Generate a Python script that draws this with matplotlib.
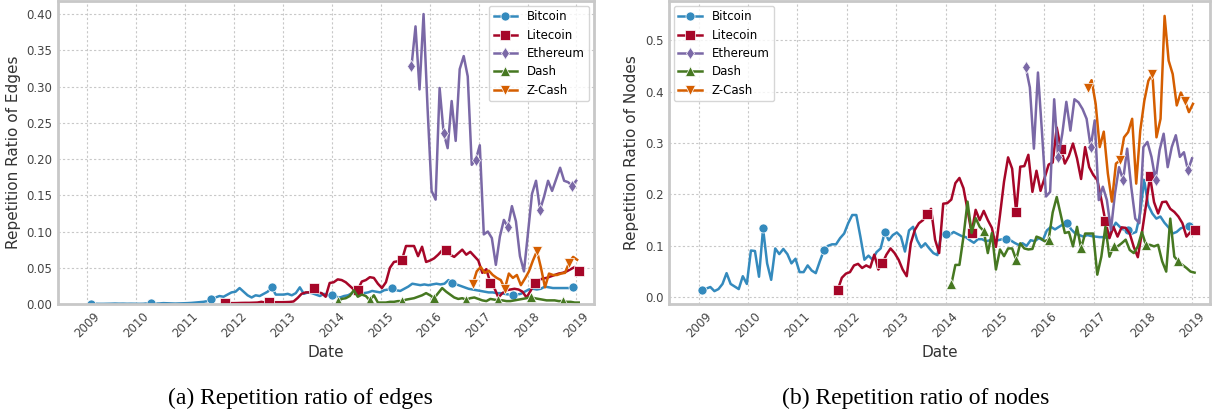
import numpy as np
import pandas as pd
import matplotlib
matplotlib.use("Agg")
import matplotlib.pyplot as plt
import matplotlib.dates as mdates

coins = ["Bitcoin", "Litecoin", "Ethereum", "Dash", "Z-Cash"]
starts = {"Bitcoin": "2009-01-27", "Litecoin": "2011-10-27", "Ethereum": "2015-08-18",
          "Dash": "2014-02-13", "Z-Cash": "2016-11-17"}

# repetition ratio of edges (30-day windows)
edges_btc = [0.0005, 0.0003, 0.0002, 0.0002, 0.0003, 0.0004, 0.0006, 0.0004, 0.0005, 0.0003,
             0.0004, 0.0003, 0.0002, 0.0003, 0.0008, 0.0015, 0.0005, 0.0007, 0.0012, 0.0010,
             0.0008, 0.0006, 0.0008, 0.0010, 0.0012, 0.0015, 0.0020, 0.0025, 0.0030, 0.0040, 0.0070,
             0.009, 0.011, 0.010, 0.013, 0.016, 0.017, 0.022, 0.017, 0.012, 0.009,
             0.012, 0.011, 0.014, 0.017, 0.023, 0.013, 0.013, 0.013, 0.014, 0.012,
             0.015, 0.023, 0.014, 0.016, 0.015, 0.013, 0.011, 0.014, 0.012, 0.013,
             0.010, 0.009, 0.011, 0.012, 0.015, 0.016, 0.014, 0.015, 0.016, 0.018,
             0.017, 0.016, 0.019, 0.020, 0.022, 0.019, 0.018, 0.021, 0.024, 0.028,
             0.027, 0.026, 0.027, 0.026, 0.027, 0.028, 0.027, 0.028, 0.033, 0.029,
             0.027, 0.025, 0.023, 0.021, 0.020, 0.019, 0.018, 0.017, 0.016, 0.016,
             0.015, 0.015, 0.014, 0.013, 0.012, 0.013, 0.014, 0.017, 0.020, 0.021,
             0.020, 0.021, 0.024, 0.023, 0.022, 0.022, 0.022, 0.022, 0.022, 0.023]
edges_ltc = [0.0014, 0.0012, 0.0012, 0.0013, 0.0015, 0.0016, 0.0016, 0.0018, 0.0020, 0.0030,
             0.0020, 0.0030, 0.0025, 0.0025, 0.0025, 0.0026, 0.0028, 0.0035, 0.0082, 0.014,
             0.016, 0.016, 0.022, 0.016, 0.015, 0.010,
             0.029, 0.030, 0.034, 0.033, 0.030, 0.025, 0.020, 0.020, 0.031, 0.033,
             0.037, 0.036, 0.028, 0.022, 0.030, 0.050, 0.058, 0.059, 0.061,
             0.080, 0.080, 0.080, 0.066, 0.079, 0.058, 0.060, 0.063, 0.068, 0.074, 0.074,
             0.068, 0.065, 0.070, 0.075, 0.068, 0.072, 0.066, 0.060, 0.043, 0.048, 0.029,
             0.022, 0.009, 0.015, 0.019, 0.020, 0.021, 0.020, 0.017, 0.009, 0.018, 0.029,
             0.033, 0.035, 0.036, 0.038, 0.040, 0.042, 0.043, 0.045, 0.048, 0.051, 0.046]
edges_eth = [0.328, 0.383, 0.296, 0.400, 0.270, 0.156, 0.144, 0.298, 0.236, 0.215,
             0.280, 0.225, 0.324, 0.342, 0.314, 0.192, 0.199, 0.219, 0.096, 0.100,
             0.091, 0.054, 0.093, 0.116, 0.106, 0.135, 0.114, 0.066, 0.045, 0.098,
             0.152, 0.170, 0.130, 0.148, 0.170, 0.156, 0.172, 0.188, 0.170, 0.168,
             0.163, 0.170]
edges_dash = [0.0036, 0.007, 0.008, 0.011, 0.019, 0.010, 0.013, 0.011, 0.005,
              0.012, 0.002, 0.002, 0.002, 0.003, 0.003, 0.004, 0.004,
              0.006, 0.007, 0.008, 0.010, 0.012, 0.015, 0.012, 0.008,
              0.015, 0.022, 0.017, 0.013, 0.009, 0.007,
              0.008, 0.006, 0.008, 0.009, 0.007, 0.005, 0.004, 0.007, 0.006, 0.005,
              0.005, 0.004, 0.004, 0.005, 0.006, 0.007, 0.008, 0.010, 0.008, 0.007,
              0.006, 0.005, 0.005, 0.005, 0.004, 0.004, 0.003, 0.003, 0.002, 0.002]
edges_zec = [0.027, 0.045, 0.051, 0.043, 0.046, 0.040, 0.036, 0.033, 0.021, 0.042,
             0.036, 0.040, 0.026, 0.035, 0.045, 0.060, 0.073, 0.050, 0.023, 0.042,
             0.040, 0.040, 0.042, 0.043, 0.057, 0.065, 0.061]

# repetition ratio of nodes
nodes_btc = [0.015, 0.017, 0.020, 0.012, 0.016, 0.026, 0.047, 0.026, 0.021, 0.016,
             0.041, 0.026, 0.091, 0.090, 0.040, 0.134, 0.066, 0.034, 0.095, 0.084,
             0.094, 0.084, 0.066, 0.075, 0.049, 0.049, 0.062, 0.052, 0.047, 0.070,
             0.091, 0.100, 0.103, 0.103, 0.115, 0.124, 0.144, 0.160, 0.160, 0.118,
             0.073, 0.081, 0.073, 0.088, 0.095, 0.126, 0.111, 0.121, 0.126, 0.118,
             0.089, 0.130, 0.137, 0.111, 0.097, 0.105, 0.095, 0.086, 0.082, 0.124,
             0.124, 0.121, 0.127, 0.123, 0.119, 0.117, 0.111, 0.106, 0.113, 0.113,
             0.109, 0.111, 0.111, 0.111, 0.113, 0.113, 0.111, 0.106, 0.102, 0.105,
             0.100, 0.111, 0.109, 0.115, 0.111, 0.130,
             0.137, 0.132, 0.137, 0.142, 0.145, 0.132, 0.124, 0.121, 0.118, 0.121,
             0.119, 0.118, 0.117, 0.117, 0.115, 0.131, 0.145, 0.137, 0.131, 0.131,
             0.124, 0.127, 0.163, 0.228, 0.179, 0.163, 0.153, 0.157, 0.145, 0.136,
             0.124, 0.127, 0.134, 0.137, 0.138]
nodes_ltc = [0.015, 0.038, 0.046, 0.049, 0.062, 0.065, 0.057, 0.062, 0.058, 0.083, 0.054, 0.066,
             0.083, 0.095, 0.086, 0.073, 0.054, 0.041, 0.105, 0.131, 0.144, 0.150, 0.162,
             0.172, 0.112, 0.086, 0.182, 0.183, 0.190, 0.222, 0.232, 0.212, 0.170, 0.125,
             0.170, 0.150, 0.168, 0.150, 0.135, 0.098, 0.160, 0.225, 0.272, 0.250, 0.165,
             0.254, 0.255, 0.277, 0.205, 0.246, 0.207, 0.232, 0.258, 0.262, 0.330, 0.289,
             0.260, 0.275, 0.299, 0.270, 0.230, 0.292, 0.253, 0.238, 0.228, 0.190, 0.148,
             0.115, 0.137, 0.118, 0.136, 0.135, 0.124, 0.098, 0.078, 0.125, 0.178, 0.235,
             0.185, 0.163, 0.185, 0.186, 0.172, 0.166, 0.157, 0.144, 0.118, 0.127, 0.130]
nodes_eth = [0.447, 0.408, 0.289, 0.437, 0.320, 0.196, 0.205, 0.385, 0.272, 0.318,
             0.380, 0.324, 0.385, 0.379, 0.366, 0.347, 0.292, 0.344, 0.189, 0.215,
             0.189, 0.131, 0.202, 0.253, 0.228, 0.289, 0.215, 0.153, 0.144, 0.292,
             0.302, 0.273, 0.228, 0.286, 0.318, 0.253, 0.292, 0.315, 0.273, 0.282,
             0.247, 0.270]
nodes_dash = [0.025, 0.063, 0.063, 0.118, 0.186, 0.125, 0.154, 0.137, 0.129, 0.086,
              0.125, 0.054, 0.093, 0.080, 0.095, 0.095, 0.073, 0.105, 0.095, 0.093,
              0.094, 0.118, 0.115, 0.109, 0.112,
              0.165, 0.195, 0.160, 0.125, 0.127, 0.099, 0.137, 0.095,
              0.124, 0.124, 0.124, 0.044, 0.079, 0.137, 0.079, 0.099,
              0.099, 0.105, 0.112, 0.092, 0.086, 0.099, 0.127, 0.102,
              0.102, 0.099, 0.102, 0.070, 0.050, 0.153, 0.079, 0.070,
              0.063, 0.057, 0.050, 0.048]
nodes_zec = [0.407, 0.422, 0.376, 0.292, 0.322, 0.241, 0.186, 0.260, 0.266, 0.311,
             0.321, 0.347, 0.221, 0.324, 0.382, 0.421, 0.434, 0.311, 0.347, 0.547,
             0.460, 0.434, 0.373, 0.398, 0.382, 0.360, 0.376]

edges = {"Bitcoin": edges_btc, "Litecoin": edges_ltc, "Ethereum": edges_eth,
         "Dash": edges_dash, "Z-Cash": edges_zec}
nodes = {"Bitcoin": nodes_btc, "Litecoin": nodes_ltc, "Ethereum": nodes_eth,
         "Dash": nodes_dash, "Z-Cash": nodes_zec}

colors = {"Bitcoin": "#348ABD", "Litecoin": "#A60628", "Ethereum": "#7A68A6",
          "Dash": "#467821", "Z-Cash": "#D55E00"}
markers = {"Bitcoin": "o", "Litecoin": "s", "Ethereum": "d", "Dash": "^", "Z-Cash": "v"}
every = {"Bitcoin": 15, "Litecoin": 11, "Ethereum": 8, "Dash": 8, "Z-Cash": 8}

plt.rcParams["font.family"] = ["DejaVu Sans"]

fig = plt.figure(figsize=(12.13, 4.15), dpi=100)
ax1 = fig.add_axes([58 / 1213, 111 / 415, 536 / 1213, 303 / 415])
ax2 = fig.add_axes([669 / 1213, 111 / 415, 541 / 1213, 303 / 415])


def draw(ax, data, ylabel, loc):
    for c in coins:
        x = pd.date_range(starts[c], periods=len(data[c]), freq="30D")
        ax.plot(x, data[c], color=colors[c], marker=markers[c], markevery=every[c],
                lw=1.8, ms=6.5, mec="white", mew=0.5, label=c)
    ax.set_xlim(pd.Timestamp("2008-05-26"), pd.Timestamp("2019-05-12"))
    ax.xaxis.set_major_locator(mdates.YearLocator())
    ax.xaxis.set_major_formatter(mdates.DateFormatter("%Y"))
    for lab in ax.get_xticklabels():
        lab.set_rotation(45)
    ax.tick_params(length=0, labelsize=8.5, colors="#444444", pad=4)
    ax.grid(True, color="#c8c8c8", linestyle=(0, (2, 2)), lw=0.8)
    for s in ax.spines.values():
        s.set_color("#c8c8c8")
        s.set_linewidth(2)
    ax.set_xlabel("Date", fontsize=11, color="#333333")
    ax.set_ylabel(ylabel, fontsize=11, color="#333333")
    leg = ax.legend(loc=loc, fontsize=8.5, frameon=True, fancybox=True,
                    borderaxespad=0.4, labelspacing=0.45)
    leg.get_frame().set_edgecolor("#cccccc")


draw(ax1, edges, "Repetition Ratio of Edges", "upper right")
ax1.set_ylim(0, 0.418)
ax1.set_yticks(np.arange(0, 0.41, 0.05))
ax1.yaxis.set_major_formatter(matplotlib.ticker.FormatStrFormatter("%.2f"))

draw(ax2, nodes, "Repetition Ratio of Nodes", "upper left")
ax2.set_ylim(-0.013, 0.576)
ax2.set_yticks(np.arange(0, 0.51, 0.1))
ax2.yaxis.set_major_formatter(matplotlib.ticker.FormatStrFormatter("%.1f"))

fig.text(300 / 1213, 1 - 398 / 415, "(a) Repetition ratio of edges", ha="center", va="center",
         fontsize=17, family="Liberation Serif")
fig.text(916 / 1213, 1 - 398 / 415, "(b) Repetition ratio of nodes", ha="center", va="center",
         fontsize=17, family="Liberation Serif")

fig.savefig("out.png", dpi=100)
